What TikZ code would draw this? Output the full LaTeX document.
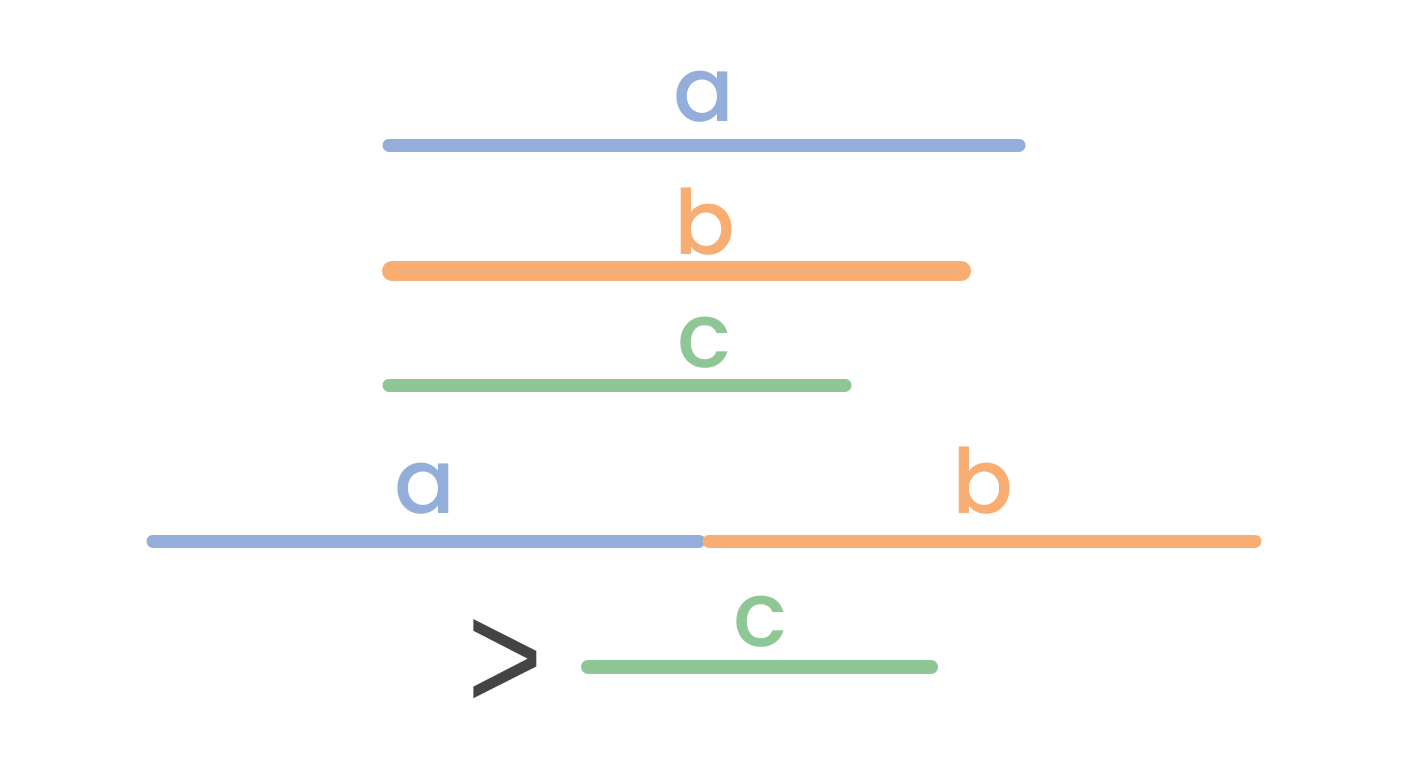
\documentclass[tikz,border=0pt]{standalone}
\usepackage{fontspec}
\setmainfont{Poppins}[UprightFont={* Medium}]
\newfontfamily\gtfont{Liberation Sans}
\definecolor{cblue}{HTML}{94AEDC}
\definecolor{corange}{HTML}{F8AD72}
\definecolor{cgreen}{HTML}{8EC795}
\definecolor{cgray}{HTML}{444444}
\begin{document}
\begin{tikzpicture}[x=1pt,y=-1pt,
  seg/.style={line cap=round},
  lab/.style={anchor=base,inner sep=0pt,font=\fontsize{90}{90}\selectfont},
  ]
\useasboundingbox (0,0) rectangle (1408,768);
% top group
\coordinate (a1) at (389,145); \coordinate (a2) at (1019,145);
\coordinate (b1) at (392,271); \coordinate (b2) at (961,271);
\coordinate (c1) at (389,385); \coordinate (c2) at (845,385);
\draw[seg,cblue,line width=13pt] (a1) -- (a2);
\draw[seg,corange,line width=20pt] (b1) -- (b2);
\draw[seg,cgreen,line width=13pt] (c1) -- (c2);
\node[lab,text=cblue] (la) at (704,121) {a};
\node[lab,text=corange] (lb) at (705,254) {b};
\node[lab,text=cgreen] (lc) at (704,367) {c};
% bottom group
\coordinate (d1) at (153,541); \coordinate (d2) at (699,541);
\coordinate (e1) at (709,541); \coordinate (e2) at (1255,541);
\coordinate (f1) at (588,667); \coordinate (f2) at (931,667);
\draw[seg,cblue,line width=13pt] (d1) -- (d2);
\draw[seg,corange,line width=13pt] (e1) -- (e2);
\draw[seg,cgreen,line width=14pt] (f1) -- (f2);
\node[lab,text=cblue] (ld) at (425,513) {a};
\node[lab,text=corange] (le) at (983,513) {b};
\node[lab,text=cgreen] (lf) at (760,646) {c};
\node[lab,text=cgray,font=\gtfont\fontsize{156}{156}\selectfont] (gt) at (505,710) {\scalebox{0.83}[1]{>}};
\end{tikzpicture}
\end{document}
